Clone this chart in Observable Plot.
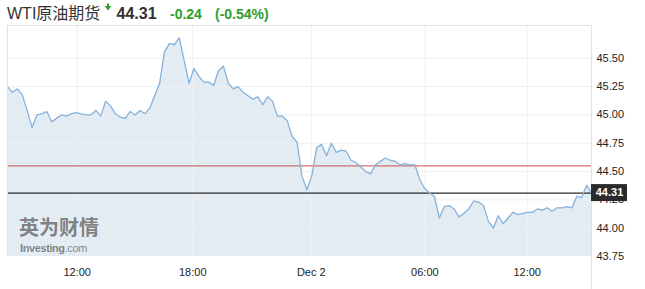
<!DOCTYPE html>
<html>
<head>
<meta charset="utf-8">
<script src="https://cdn.jsdelivr.net/npm/d3@7"></script>
<script src="https://cdn.jsdelivr.net/npm/@observablehq/plot@0.6"></script>
<style>
  html, body { margin: 0; padding: 0; background: #fff; }
  #wrap { position: relative; width: 645px; height: 289px; overflow: hidden; font-family: 'Liberation Sans', Arial, 'Noto Sans CJK SC', sans-serif; }
  #header { display: block; }
  .wm1 { position: absolute; left: 19px; top: 212px; font-size: 20px; font-weight: bold; color: rgba(95,95,95,0.75); font-family: 'Noto Sans CJK SC', sans-serif; letter-spacing: 0px; line-height: normal; }
  .wm2 { position: absolute; left: 20px; top: 242px; font-size: 11px; color: rgba(95,95,95,0.75); line-height: normal; letter-spacing: -0.4px; }
  .wm2 b { font-weight: bold; }
</style>
</head>
<body>
<div id="wrap">
  <svg id="header" width="645" height="22"></svg>
  <div id="chart"></div>
  <div class="wm1">英为财情</div>
  <div class="wm2"><b>Investing</b>.com</div>
</div>
<script>
// ---- data ----
const title = "WTI原油期货";
const values = [
  45.25,45.20,45.23,45.18,45.04,44.89,45.00,45.01,45.03,44.94,
  44.97,45.00,44.99,45.01,45.02,45.01,45.00,45.00,45.04,44.99,
  45.12,45.08,45.01,44.98,44.97,45.03,45.00,45.04,45.01,45.06,
  45.17,45.28,45.56,45.63,45.62,45.68,45.48,45.28,45.41,45.34,
  45.29,45.29,45.26,45.39,45.43,45.28,45.23,45.25,45.20,45.17,
  45.14,45.16,45.09,45.16,45.12,44.99,44.99,44.95,44.81,44.76,
  44.46,44.34,44.46,44.71,44.74,44.64,44.75,44.67,44.69,44.68,
  44.60,44.58,44.54,44.50,44.48,44.56,44.59,44.62,44.60,44.59,
  44.56,44.57,44.56,44.56,44.43,44.35,44.31,44.28,44.09,44.19,
  44.20,44.17,44.10,44.13,44.17,44.24,44.23,44.20,44.06,44.00,
  44.11,44.04,44.09,44.14,44.12,44.13,44.14,44.14,44.17,44.16,
  44.18,44.15,44.18,44.18,44.19,44.18,44.28,44.27,44.38,44.31
];
const xTickPos = [14.2, 37.75, 61.9, 85.05, 105.9];
const xTickLabels = ["12:00", "18:00", "Dec 2", "06:00", "12:00"];
const yTicks = [43.75, 44.00, 44.25, 44.50, 44.75, 45.00, 45.25, 45.50];
const prevClose = 44.55;
const lastPrice = 44.31;
const yDomain = [43.75, 45.79];

// ---- header ----
const change = lastPrice - prevClose;
const pct = change / prevClose * 100;
const green = "#2e9e2e";
const hdr = d3.select("#header");
const hfont = "'Liberation Sans', Arial, 'Noto Sans CJK SC', sans-serif";
hdr.append("text").attr("x", 7).attr("y", 18.5).attr("font-size", 16).attr("fill", "#333")
  .attr("font-family", hfont).text(title);
hdr.append("path").attr("d", "M104.6,6 L111.4,6 L108,10.4 Z M107,3.4 L109,3.4 L109,6.2 L107,6.2 Z").attr("fill", green);
hdr.append("text").attr("x", 116.5).attr("y", 18.5).attr("font-size", 16).attr("font-weight", "bold")
  .attr("fill", "#333").attr("font-family", hfont).text(lastPrice.toFixed(2));
hdr.append("text").attr("x", 170).attr("y", 18.5).attr("font-size", 14).attr("font-weight", "bold")
  .attr("fill", green).attr("font-family", hfont).text(change.toFixed(2));
hdr.append("text").attr("x", 215).attr("y", 18.5).attr("font-size", 14).attr("font-weight", "bold")
  .attr("fill", green).attr("font-family", hfont).text("(" + pct.toFixed(2) + "%)");

// ---- chart ----
const data = values.map((v, i) => ({i, v}));
const labelMap = new Map(xTickPos.map((p, k) => [p, xTickLabels[k]]));
const n = values.length - 1;
const border = "#dfe3e8";
const grid = "#edf0f4";

const plot = Plot.plot({
  width: 645,
  height: 267,
  marginLeft: 7,
  marginRight: 54,
  marginTop: 3,
  marginBottom: 33,
  style: {fontFamily: "'Liberation Sans', Arial, sans-serif", fontSize: "11px", color: "#222", background: "#fff", overflow: "visible"},
  x: {domain: [0, n], ticks: xTickPos, tickFormat: d => labelMap.get(d), tickSize: 0, tickPadding: 12, label: null},
  y: {domain: yDomain, ticks: yTicks, tickFormat: d => d.toFixed(2), axis: "right", tickSize: 0, tickPadding: 5, label: null},
  marks: [
    Plot.areaY(data, {x: "i", y1: yDomain[0], y2: "v", fill: "#e4ecf3"}),
    Plot.ruleY(yTicks.slice(1), {stroke: grid}),
    Plot.ruleX(xTickPos, {stroke: grid}),
    Plot.ruleY([prevClose], {stroke: "#c9504b", strokeWidth: 1}),
    Plot.ruleY([lastPrice], {stroke: "#2b2b2b", strokeWidth: 1.2}),
    Plot.lineY(data, {x: "i", y: "v", stroke: "#86b2dc", strokeWidth: 1.3}),
    Plot.ruleY([yDomain[1]], {stroke: border}),
    Plot.ruleX([0], {stroke: border}),
    Plot.ruleX([n], {stroke: border, insetBottom: -33})
  ]
});
document.getElementById("chart").appendChild(plot);

// last price label box, positioned through the plot's own scales
const yPos = plot.scale("y").apply(lastPrice);
const xPos = plot.scale("x").apply(n);
const g = d3.select(plot).append("g");
g.append("rect").attr("x", xPos).attr("y", yPos - 8.5).attr("width", 36).attr("height", 17).attr("fill", "#2b2b2b");
g.append("text").attr("x", xPos + 18.5).attr("y", yPos).attr("dy", "0.35em").attr("text-anchor", "middle")
  .attr("fill", "#fff").attr("font-weight", "bold").attr("font-size", 11).text(lastPrice.toFixed(2));
</script>
</body>
</html>
